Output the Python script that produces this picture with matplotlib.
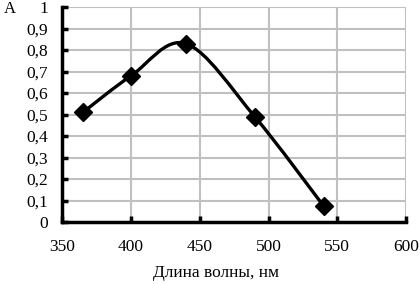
import matplotlib
matplotlib.use('Agg')
from matplotlib import pyplot as plt
from matplotlib.path import Path
from matplotlib.patches import PathPatch

plt.rcParams['font.family'] = ['Liberation Serif', 'DejaVu Serif']

# wavelength, nm and absorbance
wavelength = [365, 400, 440, 490, 540]
absorbance = [0.51, 0.68, 0.83, 0.49, 0.075]

xticks = [350, 400, 450, 500, 550, 600]
yticks = [0, 0.1, 0.2, 0.3, 0.4, 0.5, 0.6, 0.7, 0.8, 0.9, 1]


def smooth_path(x, y):
    # excel-like smoothed line made of cubic bezier segments
    verts = [(x[0], y[0])]
    codes = [Path.MOVETO]
    n = len(x)
    for i in range(n - 1):
        x0, y0 = (x[i - 1], y[i - 1]) if i > 0 else (x[i], y[i])
        x3, y3 = (x[i + 2], y[i + 2]) if i + 2 < n else (x[i + 1], y[i + 1])
        c1 = (x[i] + (x[i + 1] - x0) / 6, y[i] + (y[i + 1] - y0) / 6)
        c2 = (x[i + 1] - (x3 - x[i]) / 6, y[i + 1] - (y3 - y[i]) / 6)
        verts += [c1, c2, (x[i + 1], y[i + 1])]
        codes += [Path.CURVE4] * 3
    return Path(verts, codes)


fig = plt.figure(figsize=(4.2, 2.84), dpi=100)
ax = fig.add_axes([0.148, 0.218, 0.819, 0.757])

ax.set_xlim(350, 600)
ax.set_ylim(0, 1)
ax.set_xticks(xticks)
ax.set_yticks(yticks)
ax.set_yticklabels([('%g' % v).replace('.', ',') for v in yticks])

ax.grid(True, color='#c0c0c0', linewidth=1.5)
ax.set_axisbelow(True)

for s in ['top', 'right']:
    ax.spines[s].set_visible(False)
for s in ['left', 'bottom']:
    ax.spines[s].set_linewidth(2.5)
    ax.spines[s].set_color('black')

ax.tick_params(direction='in', length=4, width=2.5, labelsize=12.5, pad=10)
ax.tick_params(axis='x', pad=12)

ax.add_patch(PathPatch(smooth_path(wavelength, absorbance), facecolor='none',
                       edgecolor='black', linewidth=2.4, zorder=3))
ax.plot(wavelength, absorbance, linestyle='none', marker='D', markersize=9,
        color='black', zorder=4, clip_on=False)

fig.text(0.008, 0.995, 'A', fontsize=12, va='top', ha='left')
fig.text(0.515, 0.01, 'Длина волны, нм', fontsize=12.5, ha='center', va='bottom')

fig.savefig('out.png', dpi=100)
